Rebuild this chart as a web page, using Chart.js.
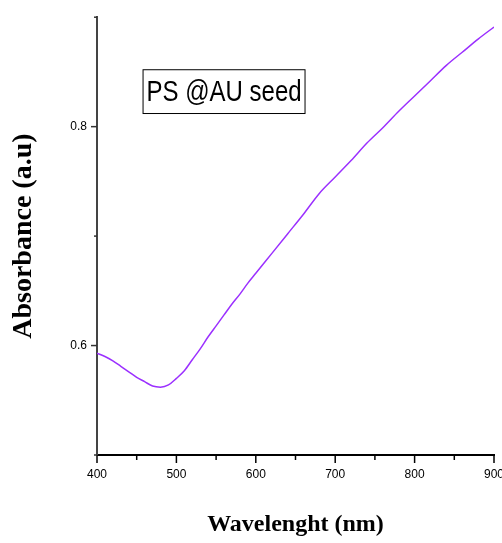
<!DOCTYPE html>
<html>
<head>
<meta charset="utf-8">
<script src="https://cdn.jsdelivr.net/npm/chart.js@4/dist/chart.umd.min.js"></script>
<style>
html,body{margin:0;padding:0;background:#fff;}
#wrap{width:502px;height:543px;}
</style>
</head>
<body>
<div id="wrap"><canvas id="c"></canvas></div>
<script>
// absorbance spectrum
const wavelength = [400,410,420,430,440,450,460,470,480,490,500,510,520,530,540,550,560,570,580,590,600,
	620,640,660,680,700,720,740,760,780,800,820,840,860,880,900];
const absorbance = [0.593,0.590,0.586,0.581,0.576,0.571,0.567,0.563,0.562,0.564,0.570,0.577,0.587,0.597,0.608,0.618,0.628,0.638,0.647,0.657,0.666,
	0.684,0.702,0.720,0.739,0.754,0.769,0.785,0.799,0.814,0.828,0.842,0.856,0.868,0.880,0.891];
const xTicks = [400,450,500,550,600,650,700,750,800,850,900];
const yTicks = [0.5,0.6,0.7,0.8,0.9];
const yLabels = [0.6,0.8];
const legendText = "PS @AU seed";

const sans = "'Liberation Sans', Arial, sans-serif";
const serif = "'Liberation Serif', 'Times New Roman', serif";

const points = wavelength.map((w,i)=>({x:w,y:absorbance[i]}));

// small outward ticks, major and minor, plus the label box
const tickMarks = {
	id:'tickMarks',
	afterDraw(chart){
		const ctx = chart.ctx;
		const xs = chart.scales.x, ys = chart.scales.y;
		const a = chart.chartArea;
		ctx.save();
		ctx.lineWidth = 1.5;
		ctx.strokeStyle = '#000';
		xTicks.forEach(v=>{
			const px = xs.getPixelForValue(v);
			const len = v % 100 === 0 ? 8 : 5;
			ctx.beginPath();
			ctx.moveTo(px, a.bottom);
			ctx.lineTo(px, a.bottom + len);
			ctx.stroke();
		});
		ctx.strokeStyle = '#333';
		yTicks.forEach(v=>{
			const py = ys.getPixelForValue(v);
			const len = yLabels.some(l=>Math.abs(l-v)<1e-6) ? 6 : 3;
			ctx.beginPath();
			ctx.moveTo(a.left, py);
			ctx.lineTo(a.left - len, py);
			ctx.stroke();
		});
		// label box
		const l = xs.getPixelForValue(458), r = xs.getPixelForValue(662);
		const t = ys.getPixelForValue(0.852), b = ys.getPixelForValue(0.812);
		ctx.strokeStyle = '#000';
		ctx.lineWidth = 1;
		ctx.strokeRect(l, t, r-l, b-t);
		ctx.fillStyle = '#000';
		ctx.font = "30px " + sans;
		ctx.textBaseline = 'middle';
		ctx.textAlign = 'center';
		ctx.translate((l+r)/2, (t+b)/2 + 1);
		ctx.scale(0.8, 1);
		ctx.fillText(legendText, 0, 0);
		ctx.restore();
	}
};

new Chart(document.getElementById('c'), {
	type:'line',
	data:{
		datasets:[{
			label:legendText,
			data:points,
			borderColor:'#9b30ff',
			borderWidth:1.5,
			pointRadius:0,
			cubicInterpolationMode:'monotone',
			fill:false
		}]
	},
	options:{
		responsive:true,
		maintainAspectRatio:false,
		animation:false,
		layout:{padding:{top:15,right:8,left:0,bottom:0}},
		plugins:{legend:{display:false},tooltip:{enabled:false}},
		scales:{
			x:{
				type:'linear',
				min:400, max:900,
				afterFit(s){ s.height = 88; s.paddingLeft = 0; s.paddingRight = 0; },
				grid:{display:false, drawTicks:false},
				border:{display:true, color:'#000', width:2},
				ticks:{
					stepSize:100,
					padding:12,
					color:'#000',
					maxRotation:0,
					font:{family:sans, size:12}
				},
				title:{
					display:true,
					text:'Wavelenght (nm)',
					color:'#000',
					font:{family:serif, size:24, weight:'bold'},
					padding:{top:0,bottom:4}
				}
			},
			y:{
				min:0.5, max:0.9,
				afterFit(s){ s.width = 97; },
				grid:{display:false, drawTicks:false},
				border:{display:true, color:'#444', width:2},
				ticks:{
					stepSize:0.1,
					padding:10,
					color:'#000',
					font:{family:sans, size:12},
					callback(v){
						return yLabels.some(l=>Math.abs(l-v)<1e-6) ? v.toFixed(1) : '';
					}
				},
				title:{
					display:true,
					text:'Absorbance (a.u)',
					color:'#000',
					font:{family:serif, size:28, weight:'bold'},
					padding:{top:7,bottom:0}
				}
			}
		}
	},
	plugins:[tickMarks]
});
</script>
</body>
</html>
